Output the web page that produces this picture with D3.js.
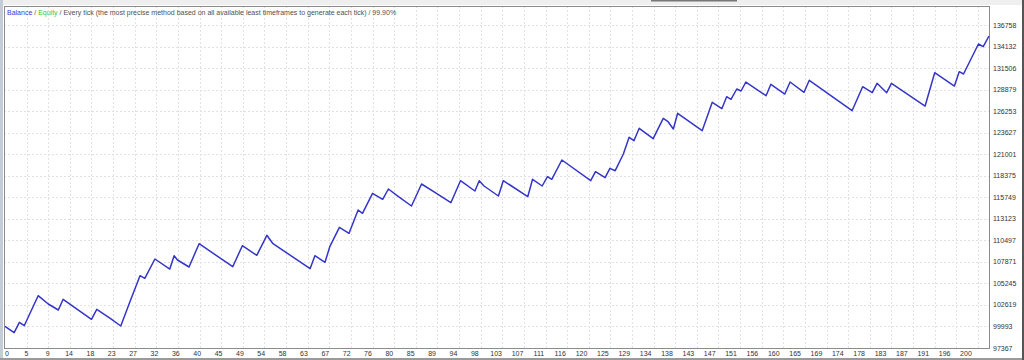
<!DOCTYPE html>
<html>
<head>
<meta charset="utf-8">
<script src="https://cdn.jsdelivr.net/npm/d3@7"></script>
<style>
  body { margin: 0; background: #fff; }
  svg text { font-family: "Liberation Sans", Arial, sans-serif; }
</style>
</head>
<body>
<svg id="chart"></svg>
<script>
// trade number of each turning point of the balance curve
const trades = [0, 1.9, 3, 4, 6.9, 9, 11.1, 12.1, 18, 19.1, 21.9, 24.1, 26, 28.1, 29.1, 31.2,
  34.3, 35.2, 35.9, 38.3, 40.4, 47.4, 49.4, 52.4, 54.5, 55.7, 63.5, 64.5, 66.6, 67.6, 69.6,
  71.6, 73.5, 74.4, 76.5, 78.6, 79.8, 81.9, 84.6, 86.7, 89.8, 92.8, 94.8, 97.8, 98.7, 99.7,
  102.7, 103.7, 105.1, 108.8, 109.8, 111.8, 112.9, 113.8, 115.9, 121.9, 122.9, 124.9, 125.9,
  127, 128.7, 129.9, 130.9, 132, 134.9, 137, 138, 139.1, 140, 145.1, 147.2, 149.2, 150.2,
  151.1, 152.3, 153.2, 154.2, 158.4, 159.4, 162.3, 163.4, 166.3, 167.4, 176.3, 178.5, 180.5,
  181.5, 183.5, 184.5, 191.5, 193.5, 197.6, 198.6, 199.5, 202.6, 203.6, 204.8];

// balance at those points
const balance = [100000, 99233, 100501, 100086, 103745, 102733, 102001, 103306, 100867, 102087,
  100989, 100050, 103013, 106184, 105867, 108221, 107001, 108623, 108099, 107245, 110086,
  107282, 109843, 108672, 111111, 110135, 107038, 108623, 107818, 109721, 112086, 111355,
  114196, 113794, 116233, 115501, 116757, 115818, 114684, 117367, 116233, 115086, 117769,
  116513, 117769, 117123, 115903, 117769, 117245, 115818, 117940, 117123, 118257, 117940,
  120294, 117769, 118867, 118135, 119281, 118989, 121025, 123062, 122647, 124159, 122891,
  125379, 124964, 124074, 125989, 123867, 127330, 126550, 128013, 127696, 128952, 128708,
  129806, 128135, 129525, 128342, 129806, 128550, 130013, 126306, 129233, 128501, 129647,
  128501, 129647, 126879, 130940, 129318, 131062, 130781, 134440, 134111, 135415];

// right axis labels
const yTicks = [97367, 99993, 102619, 105245, 107871, 110497, 113123, 115749, 118375,
  121001, 123627, 126253, 128879, 131506, 134132, 136758];

// bottom axis labels
const xTickLabels = ["0", "5", "9", "14", "18", "23", "27", "32", "36", "40", "45", "49", "54",
  "58", "63", "67", "72", "76", "80", "85", "89", "94", "98", "103", "107", "111", "116", "120",
  "125", "129", "134", "138", "143", "147", "151", "156", "160", "165", "169", "174", "178",
  "183", "187", "191", "196", "200"];

const legendParts = [
  {text: "Balance", color: "#3a3ad0"},
  {text: " / ", color: "#505050"},
  {text: "Equity", color: "#38c838"},
  {text: " / Every tick (the most precise method based on all available least timeframes to generate each tick) / 99.90%", color: "#505050"}
];

const width = 1024, height = 360;
const plot = {left: 4, top: 6, right: 989, bottom: 348};

const svg = d3.select("#chart").attr("width", width).attr("height", height);

// background pieces around the plot
svg.append("rect").attr("width", width).attr("height", height).attr("fill", "#fff");
svg.append("rect").attr("width", width).attr("height", 5).attr("fill", "#efefef");
svg.append("rect").attr("x", 651).attr("width", 86).attr("height", 1.5).attr("fill", "#777");
svg.append("rect").attr("width", 3).attr("height", height).attr("fill", "#c4ccd8");
svg.append("rect").attr("y", 358).attr("width", width).attr("height", 2).attr("fill", "#9a9a9a");
svg.append("rect").attr("x", 1022).attr("width", 2).attr("height", height).attr("fill", "#555");

const x = d3.scaleLinear().domain([0, 204.8]).range([5, plot.right]);
const y = d3.scaleLinear().domain([97367, 136758]).range([plot.bottom, 25]);

// dotted grid
const grid = svg.append("g").attr("stroke", "#e2e2e2").attr("stroke-dasharray", "2,2");
grid.selectAll("line.v")
  .data(d3.range(1, 46))
  .enter().append("line")
  .attr("x1", d => Math.round(x(d * 4.5)) + 0.5)
  .attr("x2", d => Math.round(x(d * 4.5)) + 0.5)
  .attr("y1", plot.top).attr("y2", plot.bottom);
grid.selectAll("line.h")
  .data(yTicks.slice(1))
  .enter().append("line")
  .attr("x1", plot.left).attr("x2", plot.right)
  .attr("y1", d => Math.round(y(d)) + 0.5)
  .attr("y2", d => Math.round(y(d)) + 0.5);

// frame
svg.append("rect")
  .attr("x", plot.left + 0.5).attr("y", plot.top + 0.5)
  .attr("width", plot.right - plot.left).attr("height", plot.bottom - plot.top)
  .attr("fill", "none").attr("stroke", "#8c8c8c");

// balance line
const line = d3.line().x((d, i) => x(trades[i])).y(d => y(d));
svg.append("path")
  .datum(balance)
  .attr("d", line)
  .attr("fill", "none")
  .attr("stroke", "#3535c8")
  .attr("stroke-width", 1.5)
  .attr("stroke-linejoin", "round");

// right axis labels
svg.selectAll("text.ytick")
  .data(yTicks)
  .enter().append("text")
  .attr("x", plot.right + 4)
  .attr("y", d => y(d) + 2.5)
  .attr("font-size", 7)
  .attr("fill", "#333")
  .text(d => d);

// bottom axis labels
svg.selectAll("text.xtick")
  .data(xTickLabels)
  .enter().append("text")
  .attr("x", (d, i) => i === 0 ? 7 : x(i * 200 / 45))
  .attr("y", 355.5)
  .attr("text-anchor", "middle")
  .attr("font-size", 7)
  .attr("fill", "#333")
  .text(d => d);

// legend line at top left
const legend = svg.append("text").attr("x", 7).attr("y", 15).attr("font-size", 7);
legend.selectAll("tspan")
  .data(legendParts)
  .enter().append("tspan")
  .attr("fill", d => d.color)
  .attr("xml:space", "preserve")
  .style("white-space", "pre")
  .text(d => d.text);
</script>
</body>
</html>
